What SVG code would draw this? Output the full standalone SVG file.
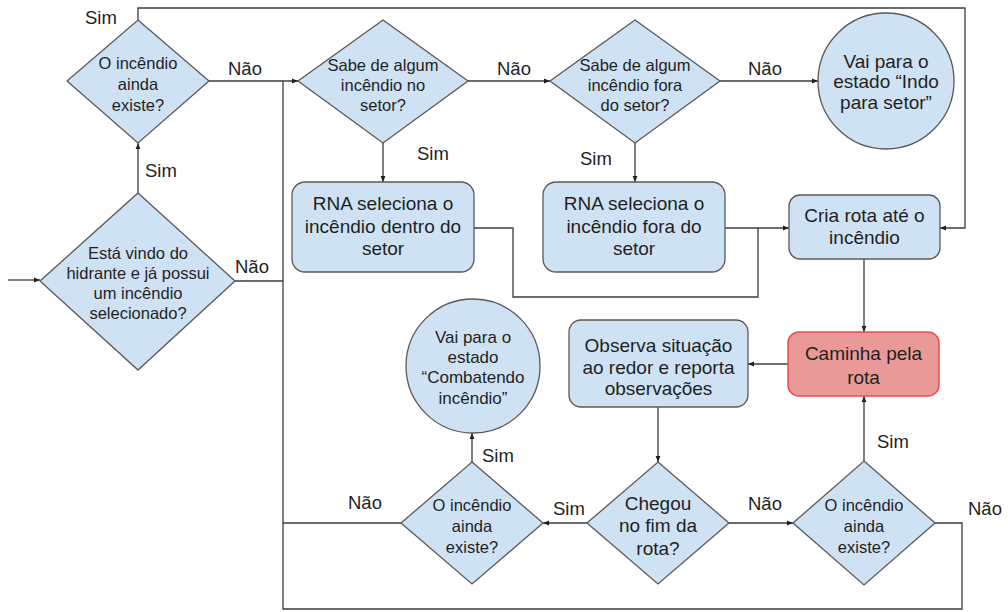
<svg xmlns="http://www.w3.org/2000/svg" width="1008" height="612" viewBox="0 0 1008 612">
  <style>
    .node { fill: #cfe2f3; stroke: #595959; stroke-width: 1.3; }
    .hot { fill: #ea9999; stroke: #ea4c4c; stroke-width: 1.5; }
    .wire { fill: none; stroke: #3c3c3c; stroke-width: 1.3; }
    text { font-family: "Liberation Sans", Arial, sans-serif; fill: #1f1f1f; text-anchor: middle; }
    .q { font-size: 16.5px; }
    .b { font-size: 19px; }
    .s { font-size: 17px; }
    .lbl { font-size: 18.5px; text-anchor: start; }
  </style>
  <defs>
    <marker id="arr" viewBox="0 0 10 10" refX="10" refY="5" markerWidth="7" markerHeight="6" orient="auto" markerUnits="userSpaceOnUse">
      <path d="M0,1 L10,5 L0,9 z" fill="#1f1f1f"/>
    </marker>
  </defs>

  <rect width="1008" height="612" fill="#ffffff"/>

  <!-- connectors -->
  <g id="connectors">
    <path class="wire" d="M8,280 H40" marker-end="url(#arr)"/>
    <path class="wire" d="M138,193 V143" marker-end="url(#arr)"/>
    <path class="wire" d="M138,20 V8 H965 V228 H940" marker-end="url(#arr)"/>
    <path class="wire" d="M209,81 H298" marker-end="url(#arr)"/>
    <path class="wire" d="M235,281 H283"/>
    <path class="wire" d="M935,523 H962 V609 H283 V81"/>
    <path class="wire" d="M401,523 H283"/>
    <path class="wire" d="M468,81 H550" marker-end="url(#arr)"/>
    <path class="wire" d="M720,81 H818" marker-end="url(#arr)"/>
    <path class="wire" d="M383,143 V182" marker-end="url(#arr)"/>
    <path class="wire" d="M635,143 V182" marker-end="url(#arr)"/>
    <path class="wire" d="M474,228 H513 V297 H758 V228"/>
    <path class="wire" d="M725,228 H789" marker-end="url(#arr)"/>
    <path class="wire" d="M864,259 V332" marker-end="url(#arr)"/>
    <path class="wire" d="M788,364 H748" marker-end="url(#arr)"/>
    <path class="wire" d="M658,407 V462" marker-end="url(#arr)"/>
    <path class="wire" d="M587,523 H543" marker-end="url(#arr)"/>
    <path class="wire" d="M729,523 H793" marker-end="url(#arr)"/>
    <path class="wire" d="M864,461 V396" marker-end="url(#arr)"/>
    <path class="wire" d="M472,462 V433" marker-end="url(#arr)"/>

    <!-- branch labels -->
    <text class="lbl" x="85" y="24">Sim</text>
    <text class="lbl" x="228" y="75">Não</text>
    <text class="lbl" x="145" y="177">Sim</text>
    <text class="lbl" x="235" y="273">Não</text>
    <text class="lbl" x="497" y="75">Não</text>
    <text class="lbl" x="748" y="75">Não</text>
    <text class="lbl" x="417" y="160">Sim</text>
    <text class="lbl" x="580" y="165">Sim</text>
    <text class="lbl" x="482" y="462">Sim</text>
    <text class="lbl" x="348" y="509">Não</text>
    <text class="lbl" x="553" y="515">Sim</text>
    <text class="lbl" x="748" y="510">Não</text>
    <text class="lbl" x="877" y="448">Sim</text>
    <text class="lbl" x="968" y="515">Não</text>
  </g>

  <!-- decision: incoming from hydrant -->
  <g id="vindo-hidrante">
    <polygon class="node" points="138,193 235,281 138,370 40,281"/>
    <text class="q" x="138" y="259">Está vindo do</text>
    <text class="q" x="138" y="279">hidrante e já possui</text>
    <text class="q" x="138" y="299">um incêndio</text>
    <text class="q" x="138" y="319">selecionado?</text>
  </g>

  <g id="incendio-existe-1">
    <polygon class="node" points="138,20 209,81 138,143 67,81"/>
    <text class="q" x="138" y="69">O incêndio</text>
    <text class="q" x="138" y="90">ainda</text>
    <text class="q" x="138" y="111">existe?</text>
  </g>

  <g id="sabe-no-setor">
    <polygon class="node" points="383,20 468,81 383,143 298,81"/>
    <text class="q" x="383" y="71">Sabe de algum</text>
    <text class="q" x="383" y="91">incêndio no</text>
    <text class="q" x="383" y="111">setor?</text>
  </g>

  <g id="sabe-fora-setor">
    <polygon class="node" points="635,20 720,81 635,143 550,81"/>
    <text class="q" x="635" y="71">Sabe de algum</text>
    <text class="q" x="635" y="91">incêndio fora</text>
    <text class="q" x="635" y="111">do setor?</text>
  </g>

  <g id="indo-para-setor">
    <circle class="node" cx="886" cy="81" r="68"/>
    <text class="b" x="886" y="68">Vai para o</text>
    <text class="b" x="886" y="88">estado “Indo</text>
    <text class="b" x="886" y="109">para setor”</text>
  </g>

  <g id="rna-dentro">
    <rect class="node" x="292" y="182" width="182" height="90" rx="13"/>
    <text class="b" x="383" y="210">RNA seleciona o</text>
    <text class="b" x="383" y="233">incêndio dentro do</text>
    <text class="b" x="383" y="255">setor</text>
  </g>

  <g id="rna-fora">
    <rect class="node" x="543" y="182" width="182" height="90" rx="13"/>
    <text class="b" x="634" y="210">RNA seleciona o</text>
    <text class="b" x="634" y="233">incêndio fora do</text>
    <text class="b" x="634" y="255">setor</text>
  </g>

  <g id="cria-rota">
    <rect class="node" x="789" y="195" width="151" height="64" rx="11"/>
    <text class="b" x="864.5" y="222">Cria rota até o</text>
    <text class="b" x="864.5" y="244">incêndio</text>
  </g>

  <g id="caminha">
    <rect class="hot" x="788" y="332" width="151" height="64" rx="11"/>
    <text class="b" x="863.5" y="360">Caminha pela</text>
    <text class="b" x="863.5" y="384">rota</text>
  </g>

  <g id="observa">
    <rect class="node" x="569" y="320" width="179" height="87" rx="12"/>
    <text class="b" x="658.5" y="352">Observa situação</text>
    <text class="b" x="658.5" y="374">ao redor e reporta</text>
    <text class="b" x="658.5" y="395">observações</text>
  </g>

  <g id="combatendo">
    <circle class="node" cx="473" cy="366" r="67"/>
    <text class="s" x="473" y="343">Vai para o</text>
    <text class="s" x="473" y="363">estado</text>
    <text class="s" x="473" y="383">“Combatendo</text>
    <text class="s" x="473" y="404">incêndio”</text>
  </g>

  <g id="incendio-existe-2">
    <polygon class="node" points="472,462 543,523 472,584 401,523"/>
    <text class="q" x="472" y="511">O incêndio</text>
    <text class="q" x="472" y="532">ainda</text>
    <text class="q" x="472" y="553">existe?</text>
  </g>

  <g id="chegou">
    <polygon class="node" points="658,462 729,523 658,584 587,523"/>
    <text class="b" x="658" y="510">Chegou</text>
    <text class="b" x="658" y="532">no fim da</text>
    <text class="b" x="658" y="555">rota?</text>
  </g>

  <g id="incendio-existe-3">
    <polygon class="node" points="864,461 935,523 864,585 793,523"/>
    <text class="q" x="864" y="511">O incêndio</text>
    <text class="q" x="864" y="532">ainda</text>
    <text class="q" x="864" y="553">existe?</text>
  </g>
</svg>
